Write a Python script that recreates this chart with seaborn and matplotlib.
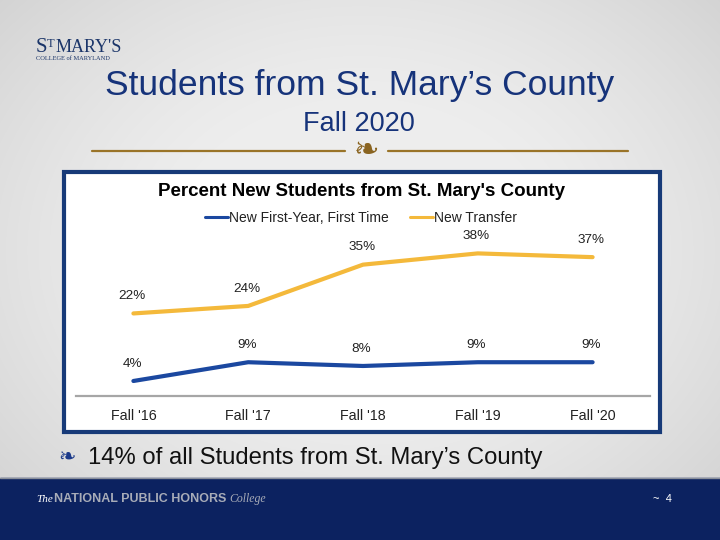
import numpy as np
import pandas as pd
import seaborn as sns
import matplotlib.pyplot as plt
from matplotlib.patches import Rectangle

# data
years = ["Fall '16", "Fall '17", "Fall '18", "Fall '19", "Fall '20"]
first_year = [4, 9, 8, 9, 9]
transfer = [22, 24, 35, 38, 37]
series_names = ["New First-Year, First Time", "New Transfer"]

df = pd.DataFrame({
    "year": years * 2,
    "pct": first_year + transfer,
    "series": [series_names[0]] * 5 + [series_names[1]] * 5,
})

sns.set_theme(style="white")
plt.rcParams['font.family'] = ['Liberation Sans', 'DejaVu Sans']

fig = plt.figure(figsize=(7.2, 5.4), dpi=100)
W, H = 720, 540

# slide background with soft vignette
bg = fig.add_axes([0, 0, 1, 1])
yy, xx = np.mgrid[0:H, 0:W]
d = np.sqrt(((xx - 360) / 420) ** 2 + ((yy - 250) / 330) ** 2)
shade = 0.93 - 0.16 * np.clip(d - 0.45, 0, 1) ** 1.3
bg.imshow(np.dstack([shade] * 3), extent=[0, W, H, 0], aspect="auto")
bg.set_xlim(0, W)
bg.set_ylim(H, 0)
bg.axis("off")

# footer band
bg.add_patch(Rectangle((0, 478), W, 62, color="#0c2260"))
bg.plot([0, W], [478, 478], color="#8a8f9a", lw=1)
bg.text(36, 499, "The", color="white", fontsize=8, style="italic",
        family=["Liberation Serif", "DejaVu Serif"], va="center")
bg.text(54, 499, "NATIONAL PUBLIC HONORS", color="#a8acb8", fontsize=9,
        fontweight="bold", va="center")
bg.text(229, 499, "College", color="#a8acb8", fontsize=8.5, style="italic",
        family=["Liberation Serif", "DejaVu Serif"], va="center")
bg.text(653, 499, "~  4", color="white", fontsize=8, va="center")

# logo
bg.text(36, 47, "S", color="#1b3569", fontsize=15, family=["Liberation Serif", "DejaVu Serif"],
        va="center")
bg.text(47, 44, "T", color="#1b3569", fontsize=9, family=["Liberation Serif", "DejaVu Serif"],
        va="center")
bg.text(56, 47, "MARY'S", color="#1b3569", fontsize=13, family=["Liberation Serif", "DejaVu Serif"],
        va="center")
bg.text(36, 59, "COLLEGE of MARYLAND", color="#1b3569", fontsize=4.6,
        family=["Liberation Serif", "DejaVu Serif"], va="center")

# slide title
bg.text(360, 86, "Students from St. Mary’s County", color="#16337a", fontsize=25.5,
        ha="center", va="center")
bg.text(359, 124, "Fall 2020", color="#16337a", fontsize=19.5, ha="center", va="center")

# gold divider with ornament
bg.plot([92, 345], [151, 151], color="#9a7428", lw=1.6)
bg.plot([388, 628], [151, 151], color="#9a7428", lw=1.6)
bg.text(366, 151, "❧", color="#8a6420", fontsize=22, ha="center", va="center",
        family=["DejaVu Sans"])

# chart frame
bg.add_patch(Rectangle((64, 172), 596, 260, facecolor="white", edgecolor="#173a78", lw=3))

# bottom note
bg.text(58, 458, "❧", color="#1b3a8a", fontsize=15, va="center", family=["DejaVu Sans"])
bg.text(88, 458, "14% of all Students from St. Mary’s County", color="#111111",
        fontsize=17.2, va="center")

bg.text(362, 192, "Percent New Students from St. Mary's County", fontsize=13.5,
        fontweight="bold", ha="center", va="center", color="black")

# chart axes
ax = fig.add_axes([76 / W, 1 - 396 / H, 574 / W, 170 / H])
ax.patch.set_alpha(0)
palette = {series_names[0]: "#1b48a0", series_names[1]: "#f4b93b"}
sns.lineplot(data=df, x="year", y="pct", hue="series", palette=palette,
             linewidth=3, sort=False, ax=ax, legend=False)
ax.set_xlim(-0.5, 4.5)
ax.set_ylim(0, 45.3)
ax.set_xlabel("")
ax.set_ylabel("")
ax.set_yticks([])
ax.tick_params(axis="x", length=0, labelsize=10.3, pad=9, colors="#222222")
for s in ["top", "right", "left"]:
    ax.spines[s].set_visible(False)
ax.spines["bottom"].set_color("#a6a6a6")
ax.spines["bottom"].set_linewidth(1.6)

for vals in (first_year, transfer):
    for i, v in enumerate(vals):
        ax.annotate(f"{v}%", (i, v), xytext=(-1, 12.5), textcoords="offset points",
                    ha="center", va="center", fontsize=9.7, color="#222222")

# legend drawn in figure pixel coords
for x0, name, col in [(205, series_names[0], "#1b48a0"), (410, series_names[1], "#f4b93b")]:
    bg.plot([x0, x0 + 23], [217, 217], color=col, lw=2.2)
    bg.text(x0 + 24, 218, name, fontsize=10, va="center", color="#222222")

fig.savefig("out.png", dpi=100)
